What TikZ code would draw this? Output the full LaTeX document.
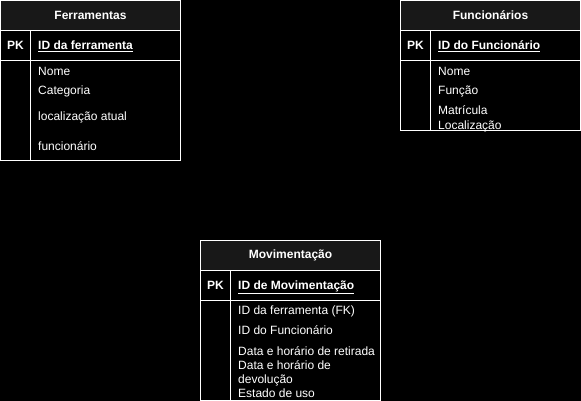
\documentclass[tikz,border=0pt]{standalone}
\usepackage{fontspec}
\setmainfont{Liberation Sans}
\definecolor{hdrgray}{HTML}{181818}
\begin{document}
\begin{tikzpicture}[x=1pt,y=-1pt,
  cell/.style={draw=white,line width=1pt,inner sep=0,outer sep=0,anchor=north west},
  hdr/.style={cell,fill=hdrgray,text=white,font=\fontsize{12}{14}\selectfont\bfseries},
  fld/.style={text=white,font=\fontsize{12}{14}\selectfont,anchor=base west,inner sep=0},
  keyfld/.style={fld,font=\fontsize{12}{14}\selectfont\bfseries},
  pk/.style={text=white,font=\fontsize{12}{14}\selectfont\bfseries,anchor=base,inner sep=0}]
\fill[black] (0,0) rectangle (581,401);
\useasboundingbox (0,0) rectangle (581,401);

% ---------- Ferramentas ----------
\node[hdr,minimum width=180pt,minimum height=30pt] (fHead) at (0.5,0.5) {Ferramentas};
\node[cell,minimum width=30pt,minimum height=30pt] (fPKc) at (0.5,30.5) {};
\node[cell,minimum width=150pt,minimum height=30pt] (fKeyc) at (30.5,30.5) {};
\node[cell,minimum width=30pt,minimum height=100pt] (fSide) at (0.5,60.5) {};
\node[cell,minimum width=150pt,minimum height=100pt] (fBody) at (30.5,60.5) {};
\node[pk] (fPK) at (15.5,49.5) {PK};
\node[keyfld] (fKey) at (38,49.5) {\underline{ID da ferramenta}};
\node[fld] (f1) at (38,75.5) {Nome};
\node[fld] (f2) at (38,94.5) {Categoria};
\node[fld] (f3) at (38,120.5) {localização atual};
\node[fld] (f4) at (38,150.5) {funcionário};

% ---------- Funcionários ----------
\node[hdr,minimum width=180pt,minimum height=30pt] (uHead) at (400.5,0.5) {Funcionários};
\node[cell,minimum width=30pt,minimum height=30pt] (uPKc) at (400.5,30.5) {};
\node[cell,minimum width=150pt,minimum height=30pt] (uKeyc) at (430.5,30.5) {};
\node[cell,minimum width=30pt,minimum height=70pt] (uSide) at (400.5,60.5) {};
\node[cell,minimum width=150pt,minimum height=70pt] (uBody) at (430.5,60.5) {};
\node[pk] (uPK) at (415.5,49.5) {PK};
\node[keyfld] (uKey) at (438,49.5) {\underline{ID do Funcionário}};
\node[fld] (u1) at (438,75.5) {Nome};
\node[fld] (u2) at (438,94.5) {Função};
\node[fld] (u3) at (438,114.5) {Matrícula};
\node[fld] (u4) at (438,129.5) {Localização};

% ---------- Movimentação ----------
\node[hdr,minimum width=180pt,minimum height=30pt] (mHead) at (200.5,240.5) {Movimentação};
\node[cell,minimum width=30pt,minimum height=30pt] (mPKc) at (200.5,270.5) {};
\node[cell,minimum width=150pt,minimum height=30pt] (mKeyc) at (230.5,270.5) {};
\node[cell,minimum width=30pt,minimum height=100pt] (mSide) at (200.5,300.5) {};
\node[cell,minimum width=150pt,minimum height=100pt] (mBody) at (230.5,300.5) {};
\node[pk] (mPK) at (215.5,289.5) {PK};
\node[keyfld] (mKey) at (238,289.5) {\underline{ID de Movimentação}};
\node[fld] (m1) at (238,314.5) {ID da ferramenta (FK)};
\node[fld] (m2) at (238,334.5) {ID do Funcionário};
\node[fld] (m3) at (238,355.5) {Data e horário de retirada};
\node[fld] (m4) at (238,369.5) {Data e horário de};
\node[fld] (m5) at (238,383.5) {devolução};
\node[fld] (m6) at (238,397.5) {Estado de uso};
\end{tikzpicture}
\end{document}
